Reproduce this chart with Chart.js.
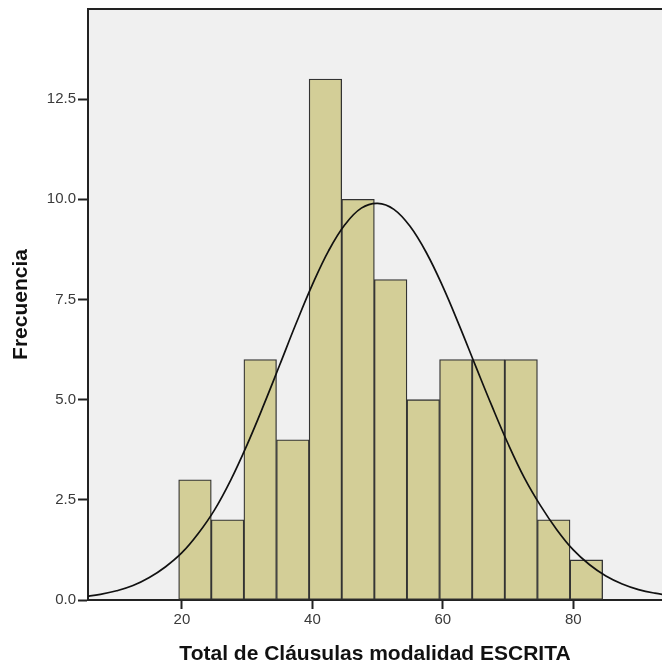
<!DOCTYPE html>
<html lang="es">
<head>
  <meta charset="UTF-8">
  <title>Histograma - Total de Cláusulas modalidad ESCRITA</title>
  <script src="https://cdn.jsdelivr.net/npm/chart.js"></script>
  <style>
    body {
      margin: 0;
      padding: 0;
      background-color: #ffffff;
    }
    #chartContainer {
      width: 662px;
      height: 668px;
    }
  </style>
</head>
<body>

  <div id="chartContainer">
    <canvas id="histChart"></canvas>
  </div>

  <script>
    // centros de los intervalos (ancho 5) y frecuencias
    const binCenters = [22, 27, 32, 37, 42, 47, 52, 57, 62, 67, 72, 77, 82];
    const frequencies = [3, 2, 6, 4, 13, 10, 8, 5, 6, 6, 6, 2, 1];

    // curva normal
    const curveX = [5, 7.5, 10, 12.5, 15, 17.5, 20, 22.5, 25, 27.5, 30, 32.5, 35, 37.5, 40, 42.5, 45, 47.5,
                    50, 52.5, 55, 57.5, 60, 62.5, 65, 67.5, 70, 72.5, 75, 77.5, 80, 82.5, 85, 87.5, 90, 92.5, 95];
    const curveY = [0.08, 0.14, 0.23, 0.36, 0.56, 0.83, 1.18, 1.66, 2.25, 3.0, 3.88, 4.85, 5.87, 6.9, 7.87, 8.72, 9.37, 9.78,
                    9.9, 9.75, 9.32, 8.66, 7.82, 6.86, 5.85, 4.85, 3.9, 3.05, 2.35, 1.75, 1.25, 0.88, 0.6, 0.4, 0.26, 0.17, 0.11];

    const xTicks = [20, 40, 60, 80];
    const yTicks = [0, 2.5, 5, 7.5, 10, 12.5];

    const plotBackground = {
      id: 'plotBackground',
      beforeDraw(chart) {
        const { ctx, chartArea } = chart;
        ctx.save();
        ctx.fillStyle = '#f0f0f0';
        ctx.fillRect(chartArea.left, chartArea.top, chartArea.right - chartArea.left, chartArea.bottom - chartArea.top);
        ctx.restore();
      },
      afterDraw(chart) {
        const { ctx, chartArea } = chart;
        ctx.save();
        ctx.strokeStyle = '#222';
        ctx.lineWidth = 2;
        ctx.beginPath();
        ctx.moveTo(chartArea.left, chartArea.top);
        ctx.lineTo(chartArea.right, chartArea.top);
        ctx.stroke();
        ctx.restore();
      }
    };

    const ctx = document.getElementById('histChart').getContext('2d');
    const histChart = new Chart(ctx, {
      type: 'bar',
      data: {
        datasets: [
          {
            type: 'line',
            order: 0,
            data: curveX.map((x, i) => ({ x: x, y: curveY[i] })),
            borderColor: '#111',
            borderWidth: 1.7,
            pointRadius: 0,
            fill: false,
            tension: 0.4
          },
          {
            type: 'bar',
            order: 1,
            data: binCenters.map((x, i) => ({ x: x, y: frequencies[i] })),
            backgroundColor: '#d3ce97',
            borderColor: '#333',
            borderWidth: 1.3,
            borderSkipped: false,
            barPercentage: 1,
            categoryPercentage: 1
          }
        ]
      },
      options: {
        responsive: true,
        maintainAspectRatio: false,
        animation: false,
        layout: {
          padding: { top: 9, right: 0, left: 0, bottom: 0 }
        },
        plugins: {
          legend: { display: false },
          tooltip: { enabled: false }
        },
        scales: {
          x: {
            type: 'linear',
            min: 5.6,
            max: 93.6,
            offset: false,
            afterBuildTicks: scale => { scale.ticks = xTicks.map(v => ({ value: v })); },
            afterFit: scale => {
              scale.height = 68;
              scale.paddingLeft = 0;
              scale.paddingRight = 0;
            },
            grid: {
              offset: false,
              drawOnChartArea: false,
              drawTicks: true,
              tickLength: 9,
              tickWidth: 2,
              tickColor: '#222'
            },
            border: { color: '#222', width: 2 },
            ticks: {
              color: '#3a3a3a',
              padding: 2,
              maxRotation: 0,
              font: { family: 'Liberation Sans', size: 15 }
            },
            title: {
              display: true,
              text: 'Total de Cláusulas modalidad ESCRITA',
              color: '#111',
              padding: { top: 1, bottom: 1 },
              font: { family: 'Liberation Sans', size: 21, weight: 'bold' }
            }
          },
          y: {
            min: 0,
            max: 14.75,
            afterBuildTicks: scale => { scale.ticks = yTicks.map(v => ({ value: v })); },
            afterFit: scale => {
              scale.width = 88;
              scale.paddingTop = 0;
              scale.paddingBottom = 0;
            },
            grid: {
              drawOnChartArea: false,
              drawTicks: true,
              tickLength: 10,
              tickWidth: 2,
              tickColor: '#222'
            },
            border: { color: '#222', width: 2 },
            ticks: {
              color: '#3a3a3a',
              padding: 2,
              font: { family: 'Liberation Sans', size: 15 },
              callback: v => v.toFixed(1)
            },
            title: {
              display: true,
              text: 'Frecuencia',
              color: '#111',
              padding: { top: 9, bottom: 9 },
              font: { family: 'Liberation Sans', size: 21, weight: 'bold' }
            }
          }
        }
      },
      plugins: [plotBackground]
    });
  </script>
</body>
</html>
